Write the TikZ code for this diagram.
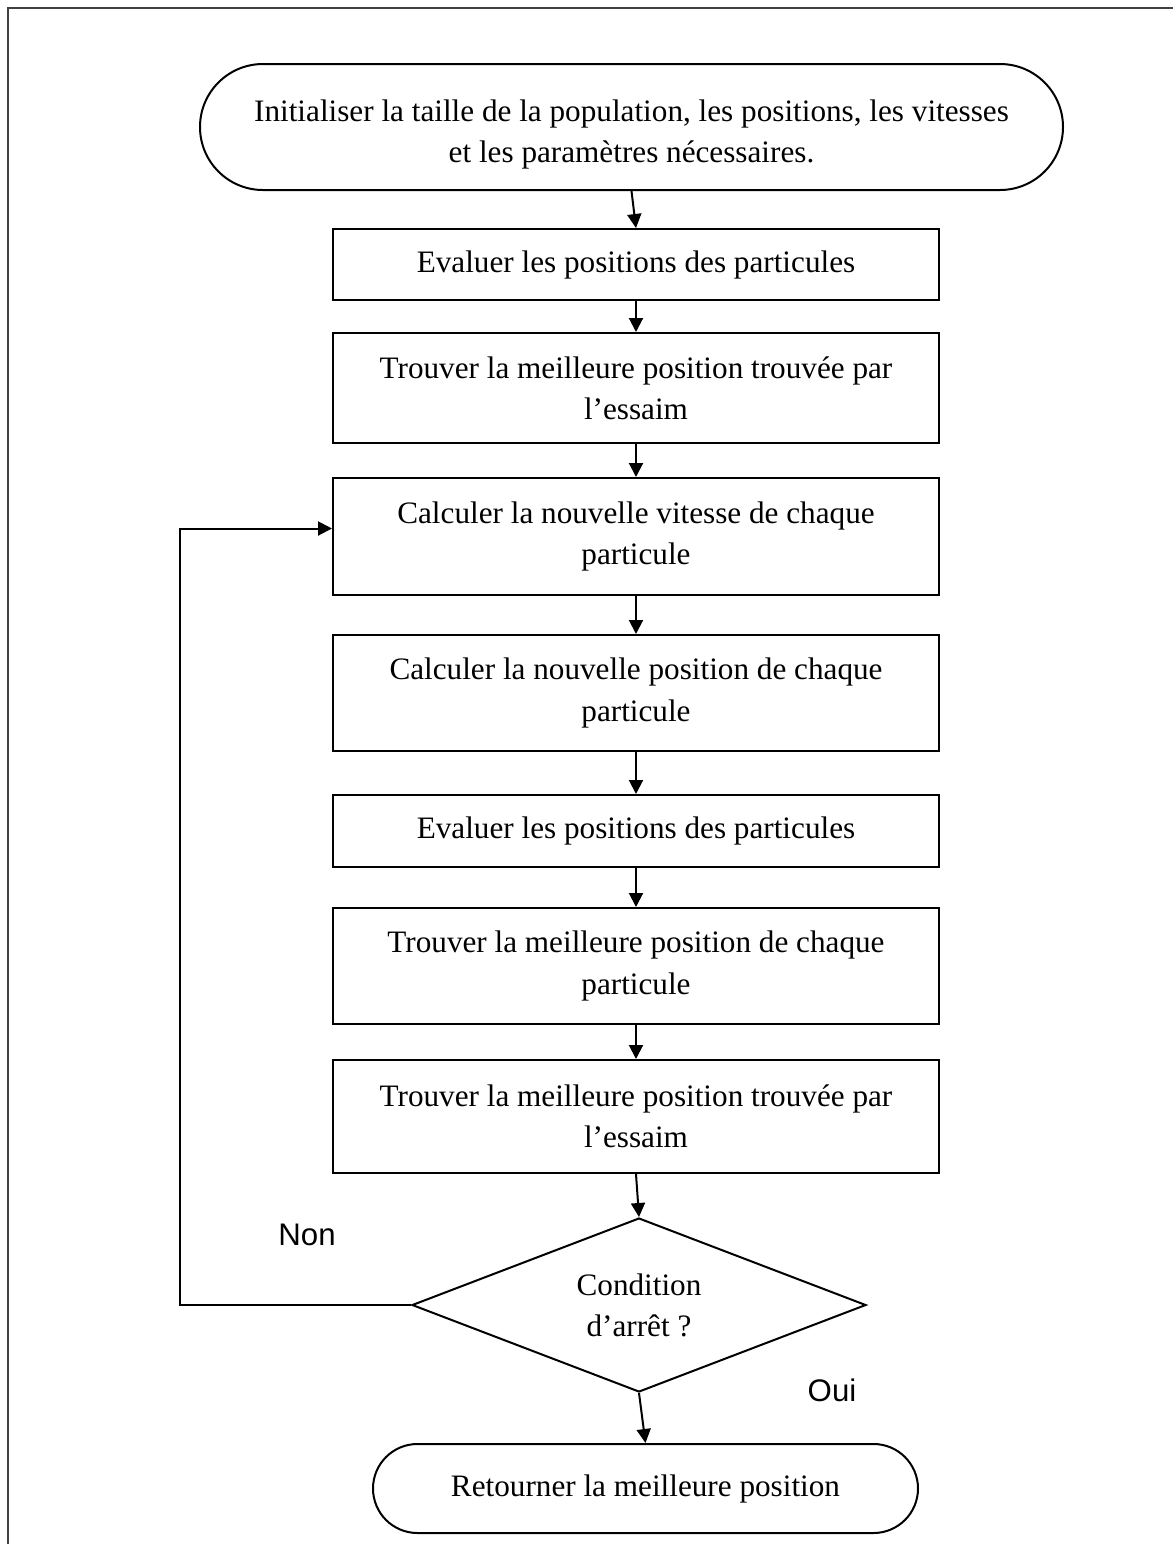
\documentclass[tikz,border=0pt]{standalone}
\usepackage{fontspec}
\setmainfont{Liberation Serif}
\newfontfamily\labelfont{Liberation Sans}
\usetikzlibrary{shapes.misc,shapes.geometric,arrows.meta}
\begin{document}
\begin{tikzpicture}[x=0.5pt,y=-0.5pt,
  every node/.style={font=\fontsize{15.6}{20.6}\selectfont, align=center, inner sep=0pt},
  stepbox/.style={draw, line width=1pt, rectangle, minimum width=303pt},
  termbox/.style={draw, line width=1pt, rounded rectangle, rounded rectangle arc length=180},
  decbox/.style={draw, line width=1pt, diamond, aspect=2.6, minimum width=227pt, minimum height=87pt},
  flow/.style={line width=1pt, -{Triangle[length=7pt,width=7pt]}},
  lbl/.style={font=\labelfont\fontsize{15.6}{18}\selectfont}]
\useasboundingbox (0,0) rectangle (1173,1544);
\draw[line width=1pt, black!75] (8,1550) -- (8,8) -- (1180,8);

\node[termbox, minimum width=431.5pt, minimum height=63pt] (start) at (631.5,127)
  {\raisebox{-3.5pt}[\height][\depth]{\begin{tabular}{@{}c@{}}Initialiser la taille de la population, les positions, les vitesses\\et les paramètres nécessaires.\end{tabular}}};
\node[stepbox, minimum height=35.5pt] (b1) at (636,264.5) {Evaluer les positions des particules};
\node[stepbox, minimum height=55pt] (b2) at (636,388) {Trouver la meilleure position trouvée par\\l’essaim};
\node[stepbox, minimum height=58.5pt] (b3) at (636,536.5) {Calculer la nouvelle vitesse de chaque\\particule};
\node[stepbox, minimum height=58pt] (b4) at (636,693) {Calculer la nouvelle position de chaque\\particule};
\node[stepbox, minimum height=36pt] (b5) at (636,831) {Evaluer les positions des particules};
\node[stepbox, minimum height=58pt] (b6) at (636,966) {Trouver la meilleure position de chaque\\particule};
\node[stepbox, minimum height=56.5pt] (b7) at (636,1116.5) {Trouver la meilleure position trouvée par\\l’essaim};
\node[decbox] (dec) at (639,1305) {Condition\\d’arrêt ?};
\node[termbox, minimum width=272.5pt, minimum height=44.5pt] (end) at (645.5,1488.5) {Retourner la meilleure position};

\node[lbl] (non) at (307,1235) {Non};
\node[lbl] (oui) at (832,1390) {Oui};

\draw[flow] (start.south) -- (b1.north);
\draw[flow] (b1) -- (b2);
\draw[flow] (b2) -- (b3);
\draw[flow] (b3) -- (b4);
\draw[flow] (b4) -- (b5);
\draw[flow] (b5) -- (b6);
\draw[flow] (b6) -- (b7);
\draw[flow] (b7.south) -- (dec.north);
\draw[flow] (dec.south) -- (end.north);
\coordinate (loop) at (180,1305);
\draw[flow] (dec.west) -- (loop) |- ([yshift=4pt]b3.west);
\end{tikzpicture}
\end{document}
